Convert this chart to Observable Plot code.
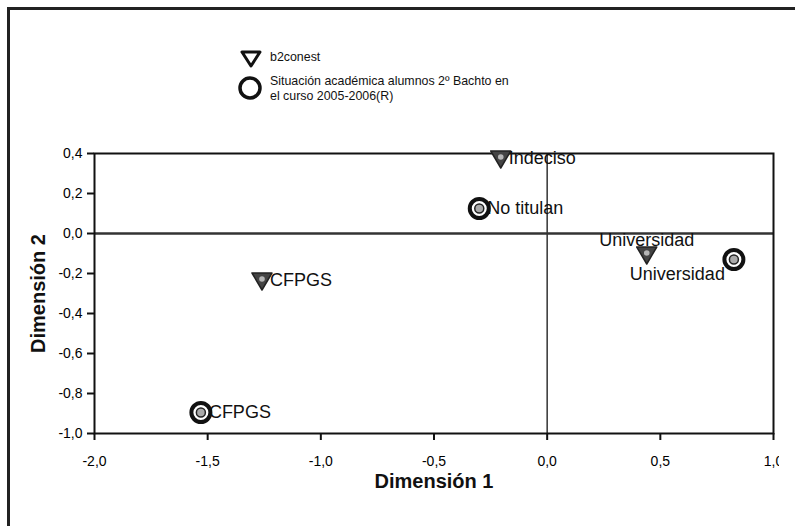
<!DOCTYPE html>
<html>
<head>
<meta charset="utf-8">
<script src="https://cdn.jsdelivr.net/npm/d3@7"></script>
<script src="https://cdn.jsdelivr.net/npm/@observablehq/plot@0.6"></script>
<style>
  html, body { margin: 0; padding: 0; background: #fff; }
  #page { position: relative; width: 795px; height: 526px; overflow: hidden; font-family: "Liberation Sans", Arial, sans-serif; }
  #clip { position: absolute; left: 0; top: 0; width: 779px; height: 526px; overflow: hidden; }
  #clip svg { max-width: none !important; }
  #bl { position: absolute; left: 7px; top: 7px; width: 3px; height: 530px; background: #222; }
  #bt { position: absolute; left: 7px; top: 7px; width: 800px; height: 3px; background: #222; }
  .leg { position: absolute; font-size: 12.4px; color: #111; line-height: 15px; }
  .legicon { position: absolute; }
</style>
</head>
<body>
<div id="page">
  <div id="clip"></div>
  <div id="bl"></div>
  <div id="bt"></div>
  <svg class="legicon" style="left:239px;top:49px" width="24" height="20"><path d="M3,3 L21,3 L12,17 Z" fill="#fff" stroke="#111" stroke-width="3" stroke-linejoin="round"/></svg>
  <div class="leg" style="left:270px;top:50px">b2conest</div>
  <svg class="legicon" style="left:237px;top:75px" width="26" height="26"><circle cx="13" cy="13" r="10" fill="#fff" stroke="#111" stroke-width="3.5"/></svg>
  <div class="leg" style="left:270px;top:74px">Situación académica alumnos 2º Bachto en<br>el curso 2005-2006(R)</div>
</div>
<script>
// Category points (b2conest) – triangles
const catLabels = ["Indeciso", "Universidad", "CFPGS"];
const catDim1 = [-0.205, 0.44, -1.26];
const catDim2 = [0.375, -0.105, -0.235];
const catPlace = ["right", "above", "right"];

// Situación académica points – circles
const sitLabels = ["No titulan", "Universidad", "CFPGS"];
const sitDim1 = [-0.30, 0.825, -1.53];
const sitDim2 = [0.125, -0.13, -0.895];
const sitPlace = ["right", "belowLeft", "right"];

const xTicks = [-2.0, -1.5, -1.0, -0.5, 0.0, 0.5, 1.0];
const yTicks = [0.4, 0.2, 0.0, -0.2, -0.4, -0.6, -0.8, -1.0];

const cats = catLabels.map((l, i) => ({label: l, x: catDim1[i], y: catDim2[i], place: catPlace[i]}));
const sits = sitLabels.map((l, i) => ({label: l, x: sitDim1[i], y: sitDim2[i], place: sitPlace[i]}));
const allPts = cats.concat(sits);

const fmt = v => v.toFixed(1).replace(".", ",");

const triDown = {
  draw(ctx, size) {
    const r = Math.sqrt(size / Math.PI);
    ctx.moveTo(-1.0 * r, -0.75 * r);
    ctx.lineTo(1.0 * r, -0.75 * r);
    ctx.lineTo(0, 0.95 * r);
    ctx.closePath();
  }
};

const textCommon = {x: "x", y: "y", text: "label", fontSize: 18, fill: "#111", fontFamily: "Liberation Sans, Arial, sans-serif"};

const chart = Plot.plot({
  width: 795,
  height: 526,
  marginLeft: 94,
  marginRight: 22,
  marginTop: 153,
  marginBottom: 93,
  style: {fontFamily: "Liberation Sans, Arial, sans-serif", background: "transparent", overflow: "visible", maxWidth: "none"},
  x: {domain: [-2, 1]},
  y: {domain: [-1, 0.4]},
  marks: [
    Plot.ruleX([0], {stroke: "#333", strokeWidth: 1.5}),
    Plot.ruleY([0], {stroke: "#333", strokeWidth: 2.5}),
    Plot.frame({stroke: "#111", strokeWidth: 2}),
    Plot.axisX({ticks: xTicks, tickSize: 7, tickPadding: 16, tickFormat: fmt, fontSize: 14, stroke: "#111", strokeWidth: 2, label: null}),
    Plot.axisY({ticks: yTicks, tickSize: 7, tickPadding: 5, tickFormat: fmt, fontSize: 14, stroke: "#111", strokeWidth: 2, label: null}),
    Plot.text(["Dimensión 1"], {frameAnchor: "bottom", dy: 54, text: d => d, textAnchor: "middle", fontSize: 20, fontWeight: "bold", fill: "#111"}),
    Plot.text(["Dimensión 2"], {frameAnchor: "left", dx: -56, rotate: -90, text: d => d, textAnchor: "middle", fontSize: 20, fontWeight: "bold", fill: "#111"}),
    // triangles
    Plot.dot(cats, {x: "x", y: "y", symbol: triDown, r: 10, fill: "#444", stroke: "#222", strokeWidth: 1.5, strokeLinejoin: "round"}),
    Plot.dot(cats, {x: "x", y: "y", r: 2.8, dy: -1.5, fill: "#b5b5b5", stroke: "none"}),
    // circles
    Plot.dot(sits, {x: "x", y: "y", r: 9.5, fill: "#fff", stroke: "#111", strokeWidth: 4}),
    Plot.dot(sits, {x: "x", y: "y", r: 4.5, fill: "#aaa", stroke: "#222", strokeWidth: 1.5}),
    // labels
    Plot.text(allPts.filter(d => d.place === "right"), {...textCommon, dx: 8, textAnchor: "start"}),
    Plot.text(allPts.filter(d => d.place === "above"), {...textCommon, dy: -14, textAnchor: "middle"}),
    Plot.text(allPts.filter(d => d.place === "belowLeft"), {...textCommon, dx: -9, dy: 15, textAnchor: "end"})
  ]
});
document.getElementById("clip").appendChild(chart);
</script>
</body>
</html>
